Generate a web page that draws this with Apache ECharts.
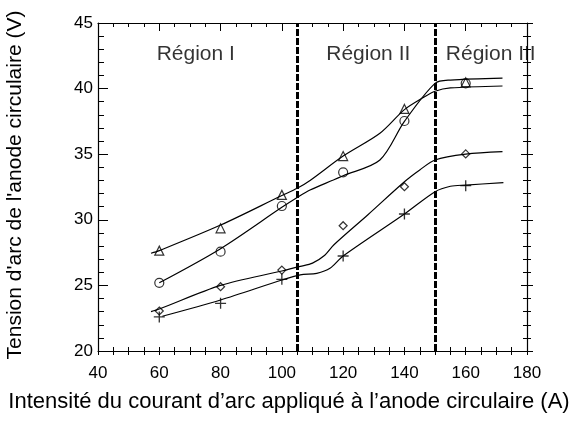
<!DOCTYPE html>
<html><head><meta charset="utf-8">
<script src="https://cdn.jsdelivr.net/npm/echarts@6/dist/echarts.min.js"></script>
<style>html,body{margin:0;padding:0;background:#fff}#c{width:580px;height:423px}</style>
</head><body><div id="c"></div>
<script>
// ---- data ----
const currents = [60, 80, 100, 120, 140, 160];
const triangleV = [27.65, 29.35, 31.9, 34.86, 38.45, 40.48];
const circleV   = [25.2, 27.57, 31.05, 33.62, 37.53, 40.4];
const diamondV  = [23.05, 24.9, 26.17, 29.55, 32.52, 35.02];
const plusV     = [22.6, 23.63, 25.46, 27.24, 30.44, 32.6];

const triCurveX = [57.3, 60, 80, 100, 105, 109.2, 120, 132, 140, 146, 150, 155, 172];
const triCurveY = [27.45, 27.65, 29.6, 31.85, 32.4, 33.0, 34.86, 36.6, 38.4, 39.3, 39.8, 40.05, 40.2];
const cirCurveX = [60, 80, 100, 105, 109.2, 116.8, 120, 132, 140, 150, 155, 172];
const cirCurveY = [25.2, 27.8, 30.95, 31.7, 32.27, 33.03, 33.36, 34.56, 37.5, 40.4, 40.65, 40.8];
const diaCurveX = [57.3, 60, 80, 100, 106, 110, 114, 117, 128, 140, 145, 150, 160, 172];
const diaCurveY = [23.0, 23.2, 25.0, 26.1, 26.45, 26.7, 27.3, 28.1, 30.37, 32.9, 33.8, 34.56, 35.0, 35.19];
const pluCurveX = [61, 80, 100, 106, 111.4, 115.7, 120, 140, 150, 155, 160, 172.3];
const pluCurveY = [22.65, 23.89, 25.41, 25.8, 25.92, 26.3, 27.24, 30.44, 32.14, 32.56, 32.65, 32.83];

const regionBoundaries = [105, 150];
const regionLabels = ['Région I', 'Région II', 'Région III'];
const regionLabelX = [71.9, 128.2, 153.5];
const regionLabelY = [42.6, 42.6, 42.6];

const xTicks = {min: 40, max: 180, interval: 20};
const yTicks = {min: 20, max: 45, interval: 5};

// ---- chart ----
const FONT = '"Liberation Sans", Arial, sans-serif';
const pairs = (xs, ys) => xs.map((x, i) => [x, ys[i]]);
const black = '#000';

function xAx(extra) {
  return Object.assign({
    type: 'value', min: xTicks.min, max: xTicks.max, interval: xTicks.interval,
    splitLine: {show: false},
    axisLine: {show: true, onZero: false, lineStyle: {color: black, width: 1.2}},
    axisLabel: {show: false},
    minorTick: {show: true, splitNumber: 4, length: 4, lineStyle: {color: black}},
    axisTick: {show: true, inside: true, length: 4, lineStyle: {color: black}}
  }, extra);
}
function yAx(extra) {
  return Object.assign({
    type: 'value', min: yTicks.min, max: yTicks.max, interval: yTicks.interval,
    splitLine: {show: false},
    axisLine: {show: true, onZero: false, lineStyle: {color: black, width: 1.2}},
    axisLabel: {show: false},
    minorTick: {show: true, splitNumber: 5, length: 4, lineStyle: {color: black}},
    axisTick: {show: true, inside: true, length: 6, lineStyle: {color: black}}
  }, extra);
}

const curveSeries = (xs, ys) => ({
  type: 'line', data: pairs(xs, ys), smooth: 0.3, showSymbol: false, symbol: 'none',
  lineStyle: {color: black, width: 1.2}, z: 3, silent: true
});
const markerSeries = (vals, symbol, size, filled) => ({
  type: 'scatter', data: pairs(currents, vals), symbol: symbol, symbolSize: size,
  itemStyle: filled ? {color: black} : {color: 'rgba(255,255,255,0)', borderColor: black, borderWidth: 1.2},
  z: 4
});

const PLUS = 'path://M0,4.4L10,4.4L10,5.6L0,5.6Z M4.4,0L5.6,0L5.6,10L4.4,10Z';

const option = {
  backgroundColor: '#fff',
  animation: false,
  textStyle: {fontFamily: FONT},
  grid: {left: 98, right: 53, top: 23, bottom: 72, containLabel: false, outerBoundsMode: 'none'},
  xAxis: [
    xAx({position: 'bottom', name: 'Intensité du courant d\u2019arc appliqué à l\u2019anode circulaire (A)',
      nameLocation: 'middle', nameGap: 40,
      nameTextStyle: {fontFamily: FONT, fontSize: 22, color: black, padding: [0, 47, 0, 0]},
      axisLabel: {show: true, fontSize: 17, color: black, fontFamily: FONT, margin: 14}}),
    xAx({position: 'bottom', axisLine: {show: false},
      axisTick: {show: true, inside: false, length: 4, lineStyle: {color: black}},
      minorTick: {show: true, splitNumber: 4, length: 4, lineStyle: {color: black}}}),
    xAx({position: 'top',
      axisTick: {show: true, inside: true, length: 8, lineStyle: {color: black}},
      minorTick: {show: true, splitNumber: 4, length: 4, lineStyle: {color: black}}})
  ],
  yAxis: [
    yAx({position: 'left', name: 'Tension d\'arc de l\'anode circulaire (V)',
      nameLocation: 'middle', nameGap: 72, nameRotate: 90,
      nameTextStyle: {fontFamily: FONT, fontSize: 21, color: black, padding: [0, 0, 0, 4]},
      axisTick: {show: true, inside: true, length: 10, lineStyle: {color: black}},
      minorTick: {show: true, splitNumber: 5, length: 6, lineStyle: {color: black}},
      axisLabel: {show: true, fontSize: 17, color: black, fontFamily: FONT, margin: 5}}),
    yAx({position: 'right'}),
    yAx({position: 'right', axisLine: {show: false},
      axisTick: {show: true, inside: false, length: 6, lineStyle: {color: black}},
      minorTick: {show: true, splitNumber: 5, length: 4, lineStyle: {color: black}}})
  ],
  series: [
    curveSeries(triCurveX, triCurveY),
    curveSeries(cirCurveX, cirCurveY),
    curveSeries(diaCurveX, diaCurveY),
    curveSeries(pluCurveX, pluCurveY),
    markerSeries(triangleV, 'triangle', 9, false),
    markerSeries(circleV, 'circle', 9, false),
    markerSeries(diamondV, 'diamond', 8, false),
    markerSeries(plusV, PLUS, 11, true),
    {
      type: 'scatter', symbolSize: 0, silent: true, z: 5,
      data: regionLabels.map((t, i) => ({name: t, value: [regionLabelX[i], regionLabelY[i]],
        label: {align: i === 2 ? 'left' : 'center'}})),
      label: {show: true, position: 'inside', formatter: p => p.name,
        fontSize: 21, color: black, fontFamily: FONT, verticalAlign: 'middle'},
      markLine: {
        silent: true, symbol: 'none', label: {show: false},
        lineStyle: {color: black, width: 3, type: [7, 2]},
        data: regionBoundaries.map(v => ({xAxis: v}))
      }
    }
  ]
};
const chart = echarts.init(document.getElementById('c'), null, {renderer: 'canvas'});
chart.setOption(option);
</script>
</body></html>
